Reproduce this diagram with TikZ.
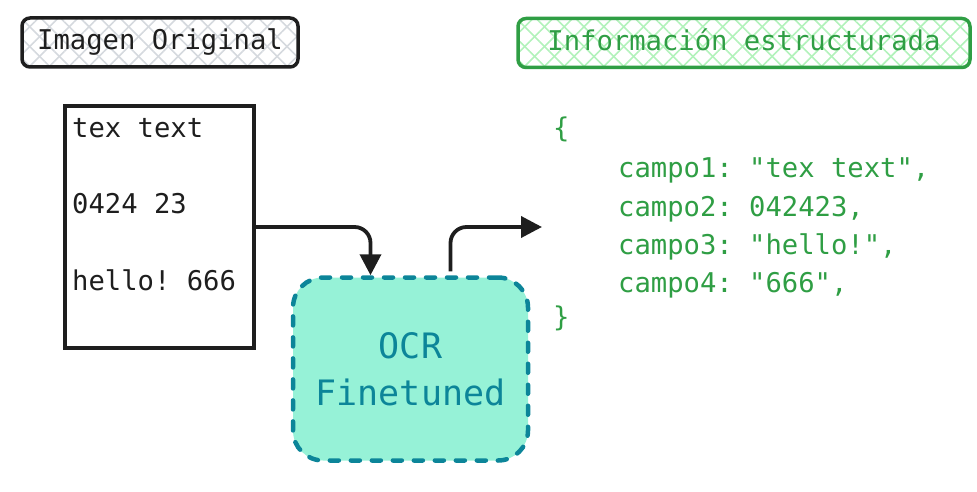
\documentclass[tikz,border=0pt]{standalone}
\usepackage{fontspec}
\setmonofont{DejaVu Sans Mono}
\usepackage{tikz}
\usetikzlibrary{arrows.meta,patterns.meta}
\definecolor{exblack}{HTML}{1E1E1E}
\definecolor{exgreen}{HTML}{2F9E44}
\definecolor{exlgreen}{HTML}{B2F2BB}
\definecolor{exteal}{HTML}{0C8599}
\definecolor{exmint}{HTML}{96F2D7}
\definecolor{exgray}{HTML}{D5D9DE}
\frenchspacing

\begin{document}
\begin{tikzpicture}[x=1pt,y=-1pt,
  hatch/.style={pattern={Lines[angle=45,distance=14pt,line width=1.6pt]},pattern color=#1,
    preaction={pattern={Lines[angle=-45,distance=14pt,line width=1.6pt]},pattern color=#1}},
  lbl/.style={draw,line width=3.5pt,rounded corners=8pt,minimum height=49pt,inner sep=0pt,
    font=\ttfamily\fontsize{27.2}{32}\selectfont,text height=20.5pt,text depth=6.4pt},
  txt/.style={font=\ttfamily\fontsize{27.2}{32}\selectfont,inner sep=0pt,anchor=base west},
  arr/.style={draw=exblack,line width=3.8pt,rounded corners=16pt,-{Triangle[length=21pt,width=21pt]}}]
\useasboundingbox (0,0) rectangle (977,492);

% titles
\node[lbl,draw=exblack,hatch=exgray,text=exblack,minimum width=276pt] (imglbl) at (160,42.5) {Imagen Original};
\node[lbl,draw=exgreen,hatch=exlgreen,text=exgreen,minimum width=452pt] (infolbl) at (744,43) {Información estructurada};

% scanned image
\node[draw=exblack,fill=white,line width=3.5pt,minimum width=189pt,minimum height=242pt] (img) at (159.5,227) {};
\node[txt,text=exblack] (line1) at (72,137.7) {tex text};
\node[txt,text=exblack] (line2) at (72,213) {0424 23};
\node[txt,text=exblack] (line3) at (72,290) {hello! 666};

% model
\node[draw=exteal,fill=exmint,line width=4.5pt,dash pattern=on 9pt off 12pt,line cap=round,
  rounded corners=30pt,minimum width=235pt,minimum height=183pt,align=center,text=exteal,
  font=\ttfamily\fontsize{35}{48}\selectfont] (ocr) at (410.5,369) {OCR\\[-1pt]Finetuned};

% json output
\coordinate (jsonin) at (542,227);
\node[txt,text=exgreen] (open) at (553,138) {\{};
\foreach \i/\t in {1/{campo1: "tex text",},2/{campo2: 042423,},3/{campo3: "hello!",},4/{campo4: "666",}}
  \node[txt,text=exgreen] (campo\i) at (618,140+38*\i) {\t};
\node[txt,text=exgreen] (close) at (553,326) {\}};

% arrows
\draw[arr] (img.east) -| ([xshift=-40pt]ocr.north);
\draw[arr] ([xshift=40pt,yshift=4pt]ocr.north) |- (jsonin);
\end{tikzpicture}
\end{document}
